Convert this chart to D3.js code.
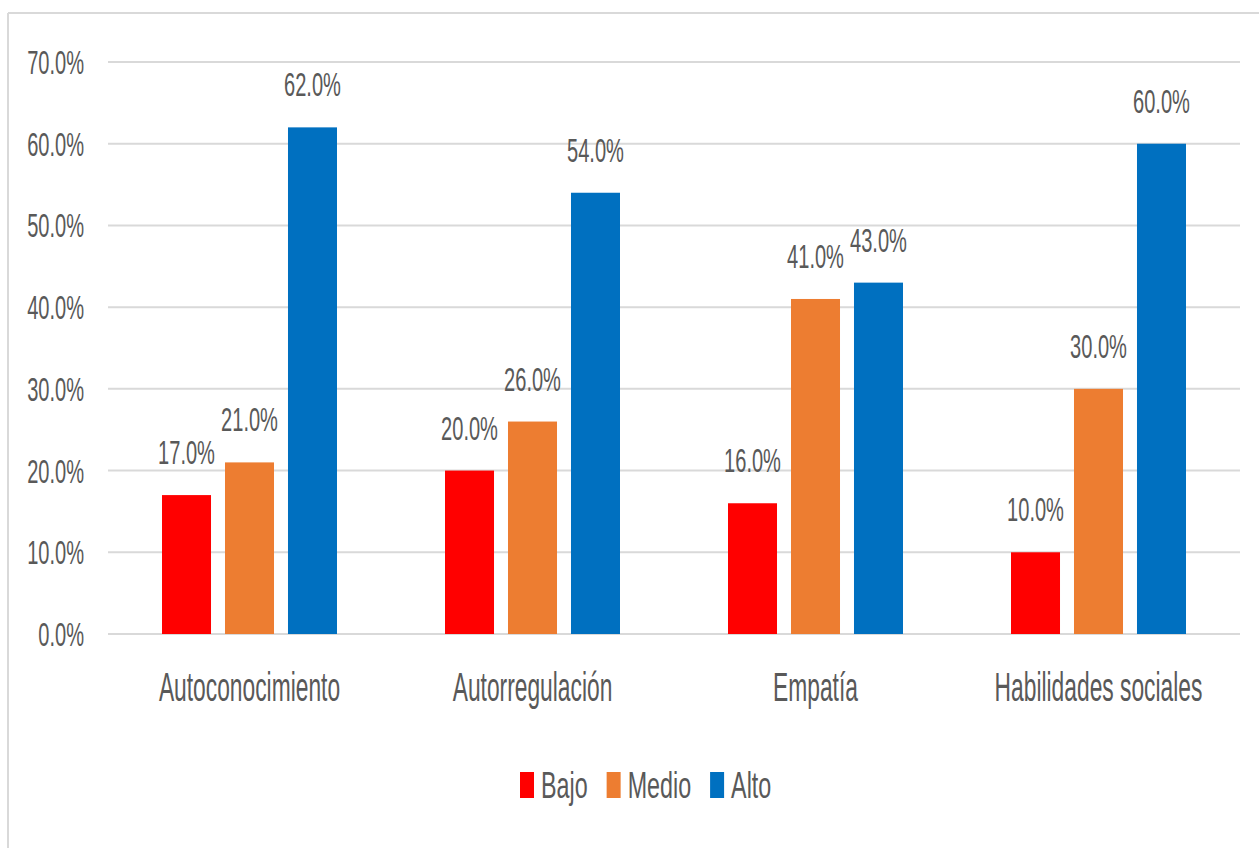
<!DOCTYPE html>
<html><head><meta charset="utf-8">
<script src="https://cdn.jsdelivr.net/npm/d3@7"></script>
<style>body{margin:0;background:#fff}svg{display:block}</style>
</head><body>
<svg id="c" width="1259" height="848"></svg>
<script>
const categories = ["Autoconocimiento","Autorregulación","Empatía","Habilidades sociales"];
const seriesNames = ["Bajo","Medio","Alto"];
const bajo  = [0.17, 0.20, 0.16, 0.10];
const medio = [0.21, 0.26, 0.41, 0.30];
const alto  = [0.62, 0.54, 0.43, 0.60];
const colors = ["#ff0000","#ed7d31","#0070c0"];
const yTicks = [0,0.1,0.2,0.3,0.4,0.5,0.6,0.7];

const values = [bajo, medio, alto];
const svg = d3.select("#c");
const SX = 0.59;
const FONT = "Liberation Sans, Arial, sans-serif";
const TXT = "#595959";

// frame
svg.append("line").attr("x1",8).attr("y1",13).attr("x2",1259).attr("y2",13).attr("stroke","#d9d9d9").attr("stroke-width",2);
svg.append("line").attr("x1",8).attr("y1",13).attr("x2",8).attr("y2",848).attr("stroke","#d9d9d9").attr("stroke-width",2);

const y = d3.scaleLinear().domain([0,0.7]).range([634,62]);
const x0 = d3.scaleBand().domain(categories).range([108,1240]).padding(0);
const x1 = d3.scaleBand().domain(seriesNames).range([-87.5,87.5]).paddingInner(0.222);

function sText(g, x, y, str, size, anchor, sx){
  return g.append("text")
    .attr("transform",`translate(${x},${y}) scale(${sx||SX},1)`)
    .attr("text-anchor",anchor)
    .attr("font-family",FONT).attr("font-size",size).attr("fill",TXT)
    .text(str);
}

// gridlines
const grid = svg.append("g");
grid.selectAll("line").data(yTicks).join("line")
  .attr("x1",108).attr("x2",1240)
  .attr("y1",d=>y(d)).attr("y2",d=>y(d))
  .attr("stroke","#d9d9d9").attr("stroke-width",2);

// y tick labels
const fmt = d3.format(".1%");
const yl = svg.append("g");
yTicks.forEach(t=>{ sText(yl, 84, y(t)+12, fmt(t), 34, "end"); });

// bars
const bars = svg.append("g");
const labels = svg.append("g");
categories.forEach((c,i)=>{
  const cx = x0(c) + x0.bandwidth()/2;
  seriesNames.forEach((s,j)=>{
    const v = values[j][i];
    bars.append("rect")
      .attr("x", cx + x1(s)).attr("width", x1.bandwidth())
      .attr("y", y(v)).attr("height", y(0)-y(v))
      .attr("fill", colors[j]);
    sText(labels, cx + x1(s) + x1.bandwidth()/2, y(v)-31, fmt(v), 34, "middle");
  });
});

// category labels
const xl = svg.append("g");
categories.forEach(c=>{
  sText(xl, x0(c)+x0.bandwidth()/2, 701, c, 40, "middle", 0.57);
});

// legend
const lg = svg.append("g");
let lx = 520;
seriesNames.forEach((s,j)=>{
  lg.append("rect").attr("x",lx).attr("y",772).attr("width",14).attr("height",26).attr("fill",colors[j]);
  const t = sText(lg, lx+21, 798, s, 37, "start", 0.63);
  const w = t.node().getComputedTextLength()*0.63;
  lx = lx + 21 + w + 19;
});
</script>
</body></html>
